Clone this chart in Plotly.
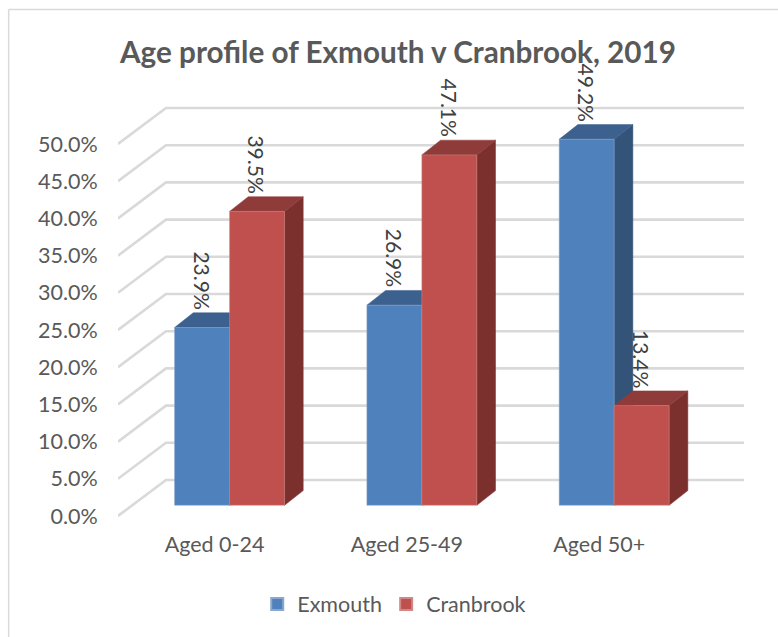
import plotly.graph_objects as go

categories = ["Aged 0-24", "Aged 25-49", "Aged 50+"]
exmouth = [23.9, 26.9, 49.2]
cranbrook = [39.5, 47.1, 13.4]
y_ticks = [0, 5, 10, 15, 20, 25, 30, 35, 40, 45, 50]
y_tick_labels = ["0.0%", "5.0%", "10.0%", "15.0%", "20.0%", "25.0%", "30.0%", "35.0%", "40.0%", "45.0%", "50.0%"]

W, H = 778, 637
L, R, T, B = 117.7, 744.0, 70.0, 522.0
PX_X = 192.4      # px per category
PX_Y = 7.44       # px per percent
X0 = 229.3        # px of first group centre
BASE = 505.3      # px of bar base
FRONT0 = 516.0    # px of 0% on the front axis edge
BAR_W = 55.0 / PX_X
DX, DY = 18.7 / PX_X, 14.7 / PX_Y
WALL_DX, WALL_DY = 48.0 / PX_X, 36.0 / PX_Y
LABEL_SHIFT = -15.0 / PX_X

x_range = [(L - X0) / PX_X, (R - X0) / PX_X]
y_range = [(BASE - B) / PX_Y, (BASE - T) / PX_Y]
y2_range = [(FRONT0 - B) / PX_Y, (FRONT0 - T) / PX_Y]

FONT = "Lato, Carlito, Calibri, sans-serif"
BLUE, BLUE_SIDE, BLUE_TOP = "#4f81bd", "#335379", "#3c618e"
RED, RED_SIDE, RED_TOP = "#c0504d", "#7b302e", "#8f3b39"
GREY = "#595959"

fig = go.Figure()
fig.add_bar(x=[0, 1, 2], y=exmouth, name="Exmouth", width=BAR_W, offset=-BAR_W, legend="legend",
            marker=dict(color=BLUE, line=dict(color="#8ba7cf", width=0.5)), xaxis="x", yaxis="y")
fig.add_bar(x=[0, 1, 2], y=cranbrook, name="Cranbrook", width=BAR_W, offset=0, legend="legend2",
            marker=dict(color=RED, line=dict(color="#cf8a88", width=0.5)), xaxis="x", yaxis="y")
# Overlay axes carrying the labels, which sit off the bars' plane in this perspective.
fig.add_scatter(x=[0], y=[0], xaxis="x2", yaxis="y2", mode="markers",
                marker=dict(opacity=0), showlegend=False, hoverinfo="skip")

shapes = []
for t in y_ticks:
    path = (f"M {x_range[0]} {t} L {x_range[0] + WALL_DX} {t + WALL_DY} L {x_range[1]} {t + WALL_DY}")
    shapes.append(dict(type="path", path=path, xref="x", yref="y2", layer="below",
                       line=dict(color="#d9d9d9", width=2.6)))


def poly(points, color):
    p = "M " + " L ".join(f"{a} {b}" for a, b in points) + " Z"
    return dict(type="path", path=p, xref="x", yref="y", layer="below",
                fillcolor=color, line=dict(color=color, width=0.5))


for values, left, top_c, side_c in ((exmouth, -BAR_W, BLUE_TOP, BLUE_SIDE), (cranbrook, 0, RED_TOP, RED_SIDE)):
    for i, v in enumerate(values):
        a, b = i + left, i + left + BAR_W
        shapes.append(poly([(b, 0), (b + DX, DY), (b + DX, v + DY), (b, v)], side_c))
        shapes.append(poly([(a, v), (a + DX, v + DY), (b + DX, v + DY), (b, v)], top_c))

# Chart border: left and top only
shapes.append(dict(type="line", xref="paper", yref="paper",
                   x0=(8.3 - L) / (R - L), x1=(8.3 - L) / (R - L),
                   y0=(B - H) / (B - T), y1=(B - 9.5) / (B - T),
                   line=dict(color="#d9d9d9", width=1.5)))
shapes.append(dict(type="line", xref="paper", yref="paper",
                   x0=(8.3 - L) / (R - L), x1=(W - L) / (R - L),
                   y0=(B - 9.5) / (B - T), y1=(B - 9.5) / (B - T),
                   line=dict(color="#d9d9d9", width=1.5)))

annotations = []
for values, dx in ((exmouth, -BAR_W / 2), (cranbrook, BAR_W / 2)):
    for i, v in enumerate(values):
        annotations.append(dict(x=i + dx, y=v, xref="x", yref="y", text=f"{v:.1f}%", textangle=90,
                                showarrow=False, yanchor="bottom", xanchor="center", yshift=16, xshift=0,
                                font=dict(family=FONT, size=21, color="#404040")))

legend_common = dict(orientation="h", xref="paper", yref="paper", xanchor="left",
                     y=(B - 604) / (B - T), yanchor="middle", bgcolor="rgba(0,0,0,0)",
                     font=dict(family=FONT, size=21.5, color=GREY), itemsizing="constant")

fig.update_layout(
    width=W, height=H, autosize=False,
    margin=dict(l=L, r=W - R, t=T, b=H - B, pad=0, autoexpand=False),
    paper_bgcolor="white", plot_bgcolor="rgba(0,0,0,0)",
    barmode="overlay",
    title=dict(text="<b>Age profile of Exmouth v Cranbrook, 2019</b>", x=398 / W, xanchor="center",
               y=1 - 53 / H, yanchor="middle", font=dict(family=FONT, size=29.7, color=GREY)),
    xaxis=dict(range=x_range, showticklabels=False, showgrid=False, zeroline=False, showline=False, ticks=""),
    yaxis=dict(range=y_range, showticklabels=False, showgrid=False, zeroline=False, showline=False, ticks=""),
    xaxis2=dict(range=[r - LABEL_SHIFT for r in x_range], overlaying="x", side="bottom", tickmode="array",
                tickvals=[0, 1, 2], ticktext=categories, showgrid=False, zeroline=False, showline=False,
                ticks="outside", ticklen=3, tickcolor="rgba(0,0,0,0)",
                tickfont=dict(family=FONT, size=21.5, color=GREY)),
    yaxis2=dict(range=y2_range, overlaying="y", side="left", anchor="x", tickmode="array", tickvals=y_ticks,
                ticktext=y_tick_labels, showgrid=False, zeroline=False, showline=False,
                ticks="outside", ticklen=15, tickcolor="rgba(0,0,0,0)",
                tickfont=dict(family=FONT, size=21.5, color=GREY)),
    legend=dict(legend_common, x=(257 - L) / (R - L)),
    legend2=dict(legend_common, x=(386 - L) / (R - L)),
    shapes=shapes, annotations=annotations, showlegend=True,
)
fig.write_html("out.html", config=dict(displayModeBar=False),
               post_script="document.body.style.margin='0';document.body.style.overflow='hidden';")
